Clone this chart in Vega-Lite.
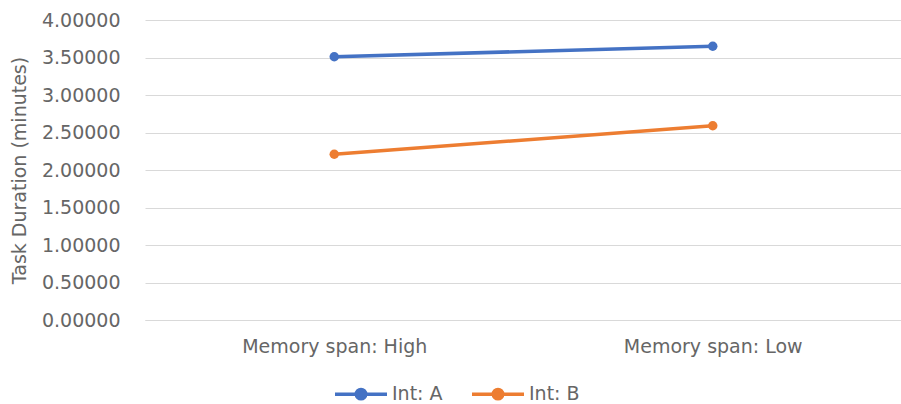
{
  "$schema": "https://vega.github.io/schema/vega-lite/v6.json",
  "width": 757,
  "height": 300,
  "autosize": "none",
  "padding": {"left": 145, "top": 20, "right": 0, "bottom": 84},
  "background": "white",
  "config": {
    "font": "DejaVu Sans",
    "view": {"stroke": null},
    "axis": {"labelColor": "#666666", "titleColor": "#666666", "labelFontSize": 19, "titleFontSize": 19, "titleFontWeight": "normal", "labelLimit": 0}
  },
  "data": {
    "values": [
      {"span": "Memory span: High", "int": "Int: A", "dur": 3.51},
      {"span": "Memory span: Low", "int": "Int: A", "dur": 3.65},
      {"span": "Memory span: High", "int": "Int: B", "dur": 2.21},
      {"span": "Memory span: Low", "int": "Int: B", "dur": 2.59}
    ]
  },
  "mark": {"type": "line", "strokeWidth": 3.5, "point": {"size": 90, "filled": true, "opacity": 1}},
  "encoding": {
    "x": {
      "field": "span", "type": "nominal", "sort": null,
      "scale": {"paddingInner": 0, "paddingOuter": 0.5},
      "axis": {"title": null, "labelAngle": 0, "ticks": false, "domain": true, "domainColor": "#d9d9d9", "labelPadding": 17, "grid": false}
    },
    "y": {
      "field": "dur", "type": "quantitative",
      "scale": {"domain": [0, 4]},
      "axis": {"title": "Task Duration (minutes)", "format": ".5f", "values": [0, 0.5, 1, 1.5, 2, 2.5, 3, 3.5, 4], "ticks": false, "domain": false, "gridColor": "#d9d9d9", "labelPadding": 25, "titlePadding": 12}
    },
    "color": {
      "field": "int", "type": "nominal",
      "scale": {"range": ["#4472C4", "#ED7D31"]},
      "legend": {
        "title": null, "orient": "none", "direction": "horizontal",
        "legendX": 188, "legendY": 346,
        "symbolType": "M-1,0H1M0.18,0A0.18,0.18 0 1 1 -0.18,0A0.18,0.18 0 1 1 0.18,0",
        "symbolSize": 2704, "symbolStrokeWidth": 3.5,
        "labelFont": "DejaVu Sans", "labelFontSize": 19, "labelColor": "#666666", "labelOffset": 3,
        "columnPadding": 22
      }
    }
  }
}
